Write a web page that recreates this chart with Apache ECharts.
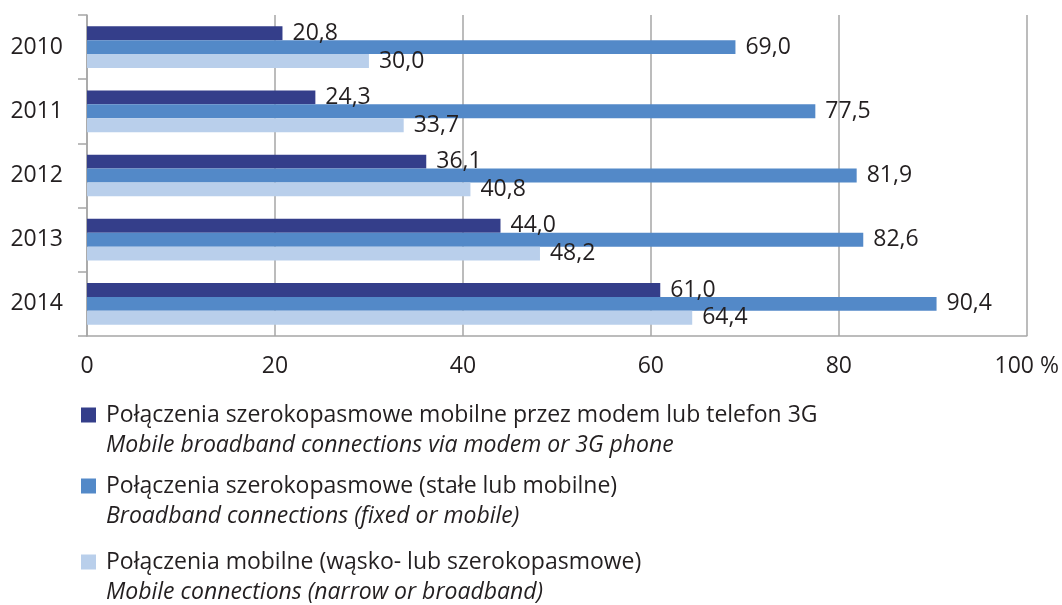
<!DOCTYPE html>
<html>
<head>
<meta charset="utf-8">
<script src="https://cdn.jsdelivr.net/npm/echarts@6/dist/echarts.min.js"></script>
<style>
  html, body { margin: 0; padding: 0; background: #fff; }
  #chart { width: 1062px; height: 605px; }
</style>
</head>
<body>
<div id="chart"></div>
<script>
// dane z wykresu
const years = ['2010', '2011', '2012', '2013', '2014'];
const mobileBroadband = [20.8, 24.3, 36.1, 44.0, 61.0];
const broadband = [69.0, 77.5, 81.9, 82.6, 90.4];
const mobileAll = [30.0, 33.7, 40.8, 48.2, 64.4];
const xTicks = [0, 20, 40, 60, 80, 100];

const namesPl = [
  'Połączenia szerokopasmowe mobilne przez modem lub telefon 3G',
  'Połączenia szerokopasmowe (stałe lub mobilne)',
  'Połączenia mobilne (wąsko- lub szerokopasmowe)'
];
const namesEn = [
  'Mobile broadband connections via modem or 3G phone',
  'Broadband connections (fixed or mobile)',
  'Mobile connections (narrow or broadband)'
];
const colors = ['#343e8a', '#5389c8', '#b9cfeb'];
const legendTops = [370, 441, 517];

const font = '"Open Sans", sans-serif';
const txt = '#231f20';
const gridGray = '#a6a6a6';

const chart = echarts.init(document.getElementById('chart'));

function fmt(v) {
  return v.toFixed(1).replace('.', ',');
}

const seriesData = [mobileBroadband, broadband, mobileAll];

const option = {
  animation: false,
  textStyle: { fontFamily: font },
  grid: { left: 87, right: 31, top: 15, bottom: 269, containLabel: false },
  legend: namesPl.map((n, i) => ({
    data: [n],
    orient: 'vertical',
    left: 81,
    top: legendTops[i],
    padding: 0,
    icon: 'rect',
    itemWidth: 15,
    itemHeight: 15,
    selectedMode: false,
    formatter: function (name) {
      const k = namesPl.indexOf(name);
      return '{e| }\n{a|' + name + '}\n{b|' + namesEn[k] + '}';
    },
    textStyle: {
      fontFamily: font,
      lineHeight: 30,
      rich: {
        e: { fontSize: 22, lineHeight: 30 },
        a: { fontSize: 23, lineHeight: 30, color: txt, fontFamily: font, padding: [0, 0, 0, 5] },
        b: { fontSize: 23, lineHeight: 30, color: txt, fontFamily: font, fontStyle: 'italic', padding: [0, 0, 0, 5] }
      }
    }
  })),
  xAxis: {
    type: 'value',
    min: 0,
    max: 100,
    interval: 20,
    axisLine: { show: true, lineStyle: { color: gridGray, width: 1.5 } },
    axisTick: { show: false },
    splitLine: { show: true, lineStyle: { color: gridGray, width: 1.5 } },
    axisLabel: {
      fontSize: 23,
      color: txt,
      margin: 19,
      fontFamily: font,
      formatter: function (v) {
        return v === xTicks[xTicks.length - 1] ? v + ' %' : String(v);
      }
    }
  },
  yAxis: {
    type: 'category',
    data: years,
    inverse: true,
    axisLine: { show: true, lineStyle: { color: gridGray, width: 1.5 } },
    axisTick: { show: true, length: 9, lineStyle: { color: gridGray, width: 1.5 } },
    axisLabel: { fontSize: 23, color: txt, margin: 24, fontFamily: font }
  },
  series: seriesData.map((d, i) => ({
    name: namesPl[i],
    type: 'bar',
    data: d,
    barGap: '0%',
    barCategoryGap: '35%',
    itemStyle: { color: colors[i] },
    label: {
      show: true,
      position: 'right',
      distance: 10,
      fontSize: 23,
      color: txt,
      fontFamily: font,
      formatter: function (p) { return fmt(p.value); }
    }
  }))
};

chart.setOption(option);
</script>
</body>
</html>
